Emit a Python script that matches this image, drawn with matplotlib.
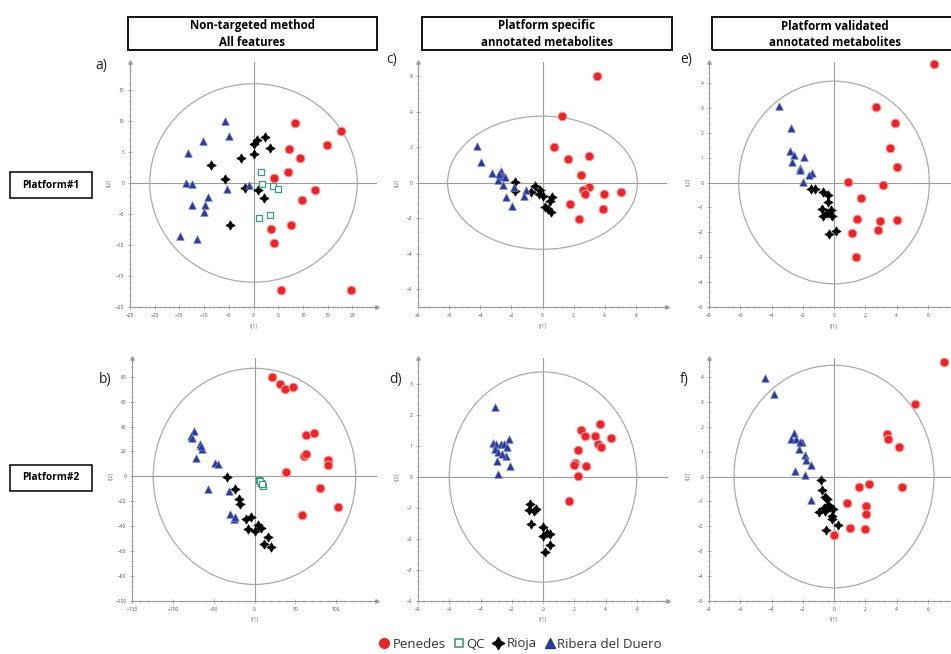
import numpy as np
import matplotlib
matplotlib.use('Agg')
import matplotlib.pyplot as plt
from matplotlib.patches import Ellipse, Rectangle
from matplotlib.lines import Line2D
from matplotlib.ticker import AutoMinorLocator

plt.rcParams['font.family'] = ['Open Sans', 'DejaVu Sans']

# ---------------- data (scores) ----------------
# a) Platform#1, non-targeted
a_penedes = [(8.4, 9.6), (17.8, 8.4), (14.9, 6.1), (7.2, 5.5), (9.4, 4.1), (7.0, 1.8), (4.1, 0.8),
             (12.4, -1.2), (9.9, -2.8), (3.5, -7.4), (7.5, -6.7), (4.2, -9.7), (5.5, -17.2), (19.7, -17.2)]
a_qc = [(1.6, 1.7), (1.7, -0.1), (3.9, -0.5), (4.9, -0.9), (3.4, -5.1), (1.1, -5.7)]
a_rioja = [(0.0, 6.2), (0.8, 6.9), (2.4, 7.4), (3.4, 5.6), (0.0, 4.6), (-2.6, 4.1), (-8.7, 2.9),
           (-5.8, 0.6), (-1.8, -0.8), (0.9, -1.2), (2.2, -2.4), (-4.8, -6.7)]
a_ribera = [(-5.7, 10.0), (-4.9, 7.5), (-10.2, 6.8), (-13.2, 4.8), (-13.6, 0.0), (-12.5, -0.2),
            (-5.3, -1.0), (-1.0, -0.4), (-9.3, -2.3), (-12.4, -3.5), (-9.9, -3.5), (-10.1, -4.7),
            (-14.9, -8.5), (-11.4, -9.0)]

# b) Platform#2, non-targeted
b_penedes = [(21.7, 80.0), (30.7, 74.1), (36.9, 69.9), (47.6, 71.5), (63.6, 33.3), (73.4, 34.7),
             (60.7, 16.5), (63.1, 18.1), (90.2, 13.3), (89.8, 8.8), (38.5, 3.5), (79.9, -9.3),
             (101.7, -24.8), (57.8, -31.2)]
b_qc = [(5.3, -2.7), (8.2, -5.3), (10.7, -7.5), (7.0, -4.0), (9.5, -6.5)]
b_rioja = [(-33.2, -0.5), (-23.8, -10.4), (-18.9, -18.1), (-17.2, -21.9), (-9.8, -33.9), (-4.1, -32.3),
           (-8.2, -42.1), (0.0, -43.5), (4.5, -38.9), (8.2, -41.3), (16.4, -48.3), (11.5, -54.1),
           (20.1, -56.3)]
b_ribera = [(-74.6, 36.5), (-77.5, 32.8), (-76.5, 30.5), (-66.4, 25.9), (-64.4, 22.1), (-65.5, 24.0),
            (-71.8, 14.9), (-48.0, 10.7), (-45.1, 9.9), (-57.0, -9.9), (-31.6, -11.5),
            (-29.5, -30.1), (-25.4, -34.1), (-24.0, -32.5)]

# c) Platform#1, platform specific annotated
c_penedes = [(3.5, 6.0), (1.27, 3.74), (0.73, 2.02), (1.66, 1.33), (2.97, 1.50), (2.47, 0.43),
             (2.97, -0.26), (2.62, -0.41), (2.73, -0.64), (3.98, -0.65), (5.03, -0.50),
             (1.74, -1.18), (3.89, -1.48), (2.32, -2.04)]
c_rioja = [(-1.74, 0.02), (-1.78, -0.45), (-0.47, -0.17), (-0.75, -0.54), (-0.13, -0.39), (0.0, -0.73),
           (0.62, -0.79), (0.47, -1.05), (0.15, -1.35), (0.34, -1.48), (0.54, -1.64), (-0.2, -0.65)]
c_ribera = [(-4.24, 2.07), (-3.98, 1.16), (-3.23, 0.54), (-2.69, 0.64), (-2.58, 0.39), (-2.41, 0.30),
            (-2.88, 0.15), (-2.52, -0.13), (-1.83, -0.22), (-2.32, -0.80), (-1.94, -1.33),
            (-1.05, -0.39), (-1.18, -0.73), (-2.8, 0.47)]

# d) Platform#2, platform specific annotated
d_penedes = [(3.66, 1.70), (2.45, 1.51), (2.71, 1.31), (3.33, 1.31), (4.37, 1.26), (3.55, 1.05),
             (3.72, 0.97), (2.24, 0.88), (2.06, 0.45), (2.0, 0.40), (2.73, 0.35), (2.21, 0.04),
             (1.68, -0.77)]
d_rioja = [(-0.82, -0.86), (-0.9, -1.05), (-0.47, -1.02), (-0.58, -1.11), (-0.75, -1.51), (0.0, -1.61),
           (0.28, -1.80), (0.0, -1.91), (0.47, -2.2), (0.11, -2.43), (0.43, -1.83)]
d_ribera = [(-3.08, 2.26), (-2.15, 1.24), (-3.2, 1.11), (-3.0, 1.08), (-2.69, 1.08), (-2.47, 1.05),
            (-2.28, 0.97), (-3.08, 0.92), (-2.86, 0.81), (-2.37, 0.67), (-2.95, 0.52), (-2.11, 0.34),
            (-2.86, 0.11), (-2.62, 0.73)]

# e) Platform#1, platform validated annotated
e_penedes = [(6.42, 4.77), (2.67, 3.04), (3.92, 2.37), (3.56, 1.37), (4.0, 0.61), (0.91, 0.04),
             (3.14, -0.12), (1.73, -0.63), (1.47, -1.45), (2.95, -1.56), (4.04, -1.51), (2.80, -1.92),
             (1.18, -2.03), (1.39, -2.99)]
e_rioja = [(-1.24, -0.27), (-1.47, -0.27), (-0.69, -0.4), (-0.36, -0.52), (-0.4, -0.77), (-0.76, -1.07),
           (-0.19, -1.09), (-0.69, -1.36), (-0.15, -1.33), (-0.29, -2.05), (0.13, -1.93), (-0.44, -1.23)]
e_ribera = [(-3.52, 3.09), (-2.76, 2.19), (-2.82, 1.28), (-2.59, 1.12), (-1.92, 1.04), (-2.69, 0.83),
            (-2.19, 0.59), (-2.17, 0.51), (-1.43, 0.39), (-1.58, 0.29), (-1.98, 0.03)]

# f) Platform#2, platform validated annotated
f_penedes = [(7.05, 4.59), (5.2, 2.91), (3.37, 1.71), (3.47, 1.51), (4.17, 1.19), (4.32, -0.44),
             (2.21, -0.29), (1.6, -0.44), (0.86, -1.05), (2.06, -1.2), (2.06, -1.51), (1.03, -2.07),
             (1.98, -2.09), (0.0, -2.33)]
f_rioja = [(-0.84, -0.15), (-0.8, -0.55), (-0.57, -0.84), (-0.46, -0.91), (-0.63, -1.27), (-0.4, -1.13),
           (-0.23, -1.23), (-0.04, -1.32), (-0.95, -1.44), (-0.55, -1.39), (-0.13, -1.71), (0.25, -1.93),
           (-0.53, -2.15), (-0.1, -1.6)]
f_ribera = [(-4.42, 3.96), (-3.85, 3.32), (-2.59, 1.76), (-2.76, 1.52), (-2.42, 1.49), (-2.02, 1.4),
            (-2.27, 1.12), (-1.83, 0.85), (-1.79, 0.65), (-1.49, 0.48), (-2.48, 0.24), (-1.85, 0.05),
            (-1.47, -0.96), (-2.2, 1.37)]

# axis limits, ticks and Hotelling ellipse half-axes for each panel
xlims = {'a': (-25, 25), 'b': (-150, 150), 'c': (-8, 8), 'd': (-8, 8), 'e': (-8, 8), 'f': (-8, 8)}
ylims = {'a': (-20, 19.5), 'b': (-100, 95), 'c': (-7, 6.8), 'd': (-4, 3.84), 'e': (-5, 4.84), 'f': (-5, 4.76)}
xticks = {'a': np.arange(-25, 21, 5), 'b': np.arange(-150, 101, 50), 'c': np.arange(-8, 7, 2),
          'd': np.arange(-8, 7, 2), 'e': np.arange(-8, 7, 2), 'f': np.arange(-8, 7, 2)}
yticks = {'a': np.arange(-20, 16, 5), 'b': np.arange(-100, 81, 20), 'c': np.arange(-6, 7, 2),
          'd': np.arange(-4, 4, 1), 'e': np.arange(-5, 5, 1), 'f': np.arange(-5, 5, 1)}
ellipses = {'a': (21, 16), 'b': (124, 86.7), 'c': (6.1, 3.75), 'd': (6.0, 3.39), 'e': (6.1, 4.07), 'f': (6.4, 4.47)}

headers = ['Non-targeted method\nAll features', 'Platform specific\nannotated metabolites',
           'Platform validated\nannotated metabolites']
platforms = ['Platform#1', 'Platform#2']

panels = {
    'a': dict(penedes=a_penedes, qc=a_qc, rioja=a_rioja, ribera=a_ribera),
    'b': dict(penedes=b_penedes, qc=b_qc, rioja=b_rioja, ribera=b_ribera),
    'c': dict(penedes=c_penedes, rioja=c_rioja, ribera=c_ribera),
    'd': dict(penedes=d_penedes, rioja=d_rioja, ribera=d_ribera),
    'e': dict(penedes=e_penedes, rioja=e_rioja, ribera=e_ribera),
    'f': dict(penedes=f_penedes, rioja=f_rioja, ribera=f_ribera),
}

# ---------------- style ----------------
RED = '#e8262a'
GREEN = '#3f9a80'
BLUE = '#2a3a98'
GRAY = '#9a9a9a'
styles = {
    'penedes': dict(marker='o', s=40, facecolor=RED, edgecolor='#f3a0a0', linewidths=0.8, zorder=5),
    'qc': dict(marker='s', s=18, facecolor='white', edgecolor=GREEN, linewidths=0.9, zorder=6),
    'rioja': dict(marker=(4, 1, 0), s=42, facecolor='black', edgecolor='black', linewidths=0.7, zorder=5),
    'ribera': dict(marker='^', s=30, facecolor=BLUE, edgecolor='#7a86c8', linewidths=0.5, zorder=5),
}

W, H = 951, 654
fig = plt.figure(figsize=(W / 100, H / 100), dpi=100)


def px_rect(left, top, right, bottom):
    return [left / W, 1 - bottom / H, (right - left) / W, (bottom - top) / H]


boxes = {
    'a': (130, 62, 377, 307), 'c': (418, 62, 667, 307), 'e': (709, 62, 959, 307),
    'b': (132, 358, 377, 601), 'd': (418, 358, 668, 601), 'f': (709, 358, 959, 601),
}
label_pos = {'a': (95, 66), 'c': (386, 60), 'e': (680, 60), 'b': (99, 379), 'd': (389, 379), 'f': (680, 379)}

for key, (l, t, r, b) in boxes.items():
    ax = fig.add_axes(px_rect(l, t, r, b))
    x0, x1 = xlims[key]
    y0, y1 = ylims[key]
    ax.set_xlim(x0, x1)
    ax.set_ylim(y0, y1)
    for sp in ['top', 'right']:
        ax.spines[sp].set_visible(False)
    for sp in ['left', 'bottom']:
        ax.spines[sp].set_color(GRAY)
        ax.spines[sp].set_linewidth(0.8)
    ax.set_xticks(xticks[key])
    ax.set_yticks(yticks[key])
    ax.xaxis.set_minor_locator(AutoMinorLocator(5))
    ax.yaxis.set_minor_locator(AutoMinorLocator(5))
    ax.tick_params(which='major', direction='inout', length=3, width=0.6, color=GRAY,
                   labelsize=3.5, labelcolor='#555555', pad=2.5)
    ax.tick_params(which='minor', direction='inout', length=1.5, width=0.4, color=GRAY)
    ax.plot(1, 0, '>', color=GRAY, ms=2.5, transform=ax.transAxes, clip_on=False)
    ax.plot(0, 1, '^', color=GRAY, ms=2.5, transform=ax.transAxes, clip_on=False)
    ax.axhline(0, color=GRAY, lw=0.8, zorder=1)
    ax.axvline(0, color=GRAY, lw=0.8, zorder=1)
    ew, eh = ellipses[key]
    ax.add_patch(Ellipse((0, 0), 2 * ew, 2 * eh, fill=False, edgecolor='#aaaaaa', lw=0.9, zorder=2))
    for grp, pts in panels[key].items():
        arr = np.array(pts)
        ax.scatter(arr[:, 0], arr[:, 1], clip_on=False, **styles[grp])
    ax.set_xlabel('t[1]', fontsize=3.5, color='#666666')
    ax.xaxis.set_label_coords((0 - x0) / (x1 - x0), -0.065)
    ax.set_ylabel('t[2]', fontsize=3.5, color='#666666')
    ax.yaxis.set_label_coords(-0.075, (0 - y0) / (y1 - y0))
    lx, ly = label_pos[key]
    fig.text(lx / W, 1 - ly / H, key + ')', fontsize=10, ha='left', va='center', color='#222222')

# column headers
header_boxes = [(128, 17, 377, 50), (422, 17, 672, 50), (712, 17, 958, 50)]
for txt, (l, t, r, b) in zip(headers, header_boxes):
    fig.patches.append(Rectangle((l / W, 1 - b / H), (r - l) / W, (b - t) / H, transform=fig.transFigure,
                                 fill=False, edgecolor='black', lw=1.3))
    fig.text((l + r) / 2 / W, 1 - (t + b + 1) / 2 / H, txt, ha='center', va='center', fontsize=8.3,
             fontweight='bold', linespacing=1.3)

# row labels
plat_boxes = [(10, 172, 92, 198), (10, 465, 92, 491)]
for txt, (l, t, r, b) in zip(platforms, plat_boxes):
    fig.patches.append(Rectangle((l / W, 1 - b / H), (r - l) / W, (b - t) / H, transform=fig.transFigure,
                                 fill=False, edgecolor='black', lw=1.1))
    fig.text((l + r) / 2 / W, 1 - (t + b) / 2 / H, txt, ha='center', va='center', fontsize=7.3,
             fontweight='bold')

handles = [
    Line2D([], [], ls='', marker='o', ms=7, mfc=RED, mec=RED, label='Penedes'),
    Line2D([], [], ls='', marker='s', ms=6, mfc='white', mec=GREEN, mew=1.2, label='QC'),
    Line2D([], [], ls='', marker=(4, 1, 0), ms=9, mfc='black', mec='black', label='Rioja'),
    Line2D([], [], ls='', marker='^', ms=7, mfc=BLUE, mec=BLUE, label='Ribera del Duero'),
]
fig.legend(handles=handles, loc='center', bbox_to_anchor=(520 / W, 1 - 644 / H), ncol=4, frameon=False,
           fontsize=9.5, handletextpad=0.1, columnspacing=0.5, handlelength=1.0, labelcolor='#333333')

fig.savefig('out.png', dpi=100)
